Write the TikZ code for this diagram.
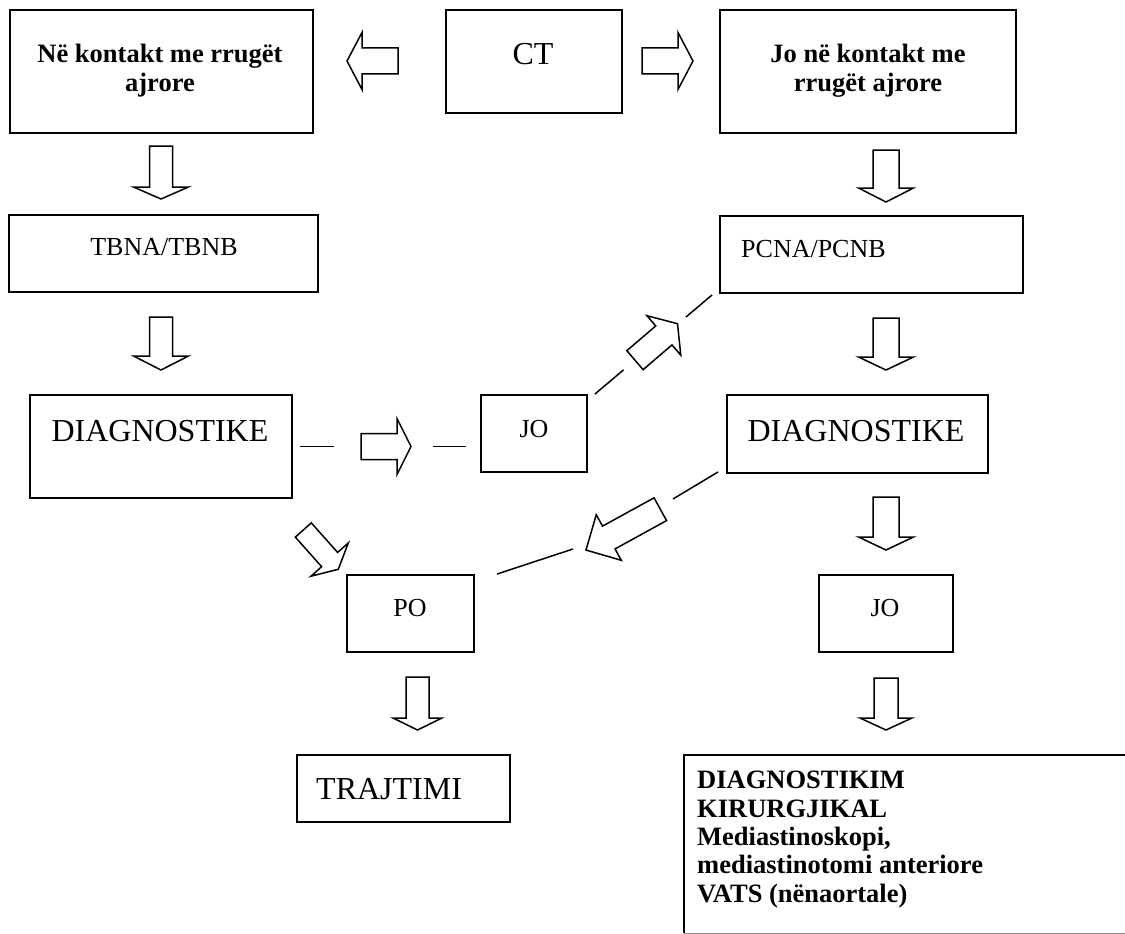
\documentclass[tikz,border=0pt]{standalone}
\usepackage{fontspec}
\setmainfont{Liberation Serif}
\usetikzlibrary{calc}
\begin{document}
\begin{tikzpicture}[x=1pt,y=-1pt,
  box/.style n args={2}{draw, line width=1.9pt, inner sep=0pt, minimum width=#1pt, minimum height=#2pt},
  small/.style={font=\fontsize{26}{30}\selectfont, inner sep=0pt},
  big/.style={font=\fontsize{32}{36}\selectfont, inner sep=0pt},
  bold/.style={font=\bfseries\fontsize{26.5}{30}\selectfont, inner sep=0pt},
  conn/.style={line width=1.5pt},
  pics/barrow/.style args={#1/#2/#3/#4}{code={
    \draw[line width=1.5pt, line join=miter, fill=white]
      (0,-#2) -- ({#1-#4},-#2) -- ({#1-#4},-#3) -- (#1,0) -- ({#1-#4},#3) -- ({#1-#4},#2) -- (0,#2) -- cycle;
  }}
]
\useasboundingbox (0,0) rectangle (1125,934);

% top row
\node[box={303}{123}] (b1) at (161.5,71.5) {};
\node[bold, anchor=base] (b1t1) at (160,63) {Në kontakt me rrugët};
\node[bold, anchor=base] (b1t2) at (160,92) {ajrore};

\node[box={176}{103}] (ct) at (534,61.5) {};
\node[big, anchor=base] (ctt) at (533,65) {CT};

\node[box={296}{123}] (j1) at (868,71.5) {};
\node[bold, anchor=base] (j1t1) at (868,63) {Jo në kontakt me};
\node[bold, anchor=base] (j1t2) at (868,92) {rrugët ajrore};

\pic[rotate=180] at (398,61) {barrow=51/13/28.5/15};
\pic at (642,61) {barrow=51/13/28.5/15};

\pic[rotate=-90] at (161,146) {barrow=53/11.5/27.5/12};
\pic[rotate=-90] at (886,150) {barrow=52/13/27.5/14};

% second row
\node[box={309}{77}] (tb) at (163.5,253.5) {};
\node[small, anchor=base] (tbt) at (164,255) {TBNA/TBNB};

\node[box={303}{77}] (pc) at (871.5,254.5) {};
\node[small, anchor=base west] (pct) at (741,257) {PCNA/PCNB};

\pic[rotate=-90] at (161,317) {barrow=53/11.5/27.5/14};
\pic[rotate=-90] at (886,318) {barrow=52/13/27.5/13};

% third row
\node[box={262}{103}] (dl) at (161,446.5) {};
\node[big, anchor=base] (dlt) at (160,441) {DIAGNOSTIKE};

\node[box={106}{77}] (jo2) at (534,433.5) {};
\node[small, anchor=base] (jo2t) at (534,437) {JO};

\node[box={261}{78}] (dr) at (857.5,434) {};
\node[big, anchor=base] (drt) at (856,441) {DIAGNOSTIKE};

\draw[conn, shorten <=7pt, shorten >=14pt, dash pattern=on 34pt off 99pt on 35pt]
  (dl.east) -- (dl.east -| jo2.west);
\pic at (361,446.5) {barrow=50/13/28/14};

\draw[conn, dash pattern=on 37.5pt off 81.7pt on 40pt]
  ($(jo2.north east)+(7,0)$) -- ($(pc.south west)+(-7,1)$);
\pic[rotate=40.6] at ($($(jo2.north east)+(7,0)$)!0.342!($(pc.south west)+(-7,1)$)$) {barrow=56/12.5/26/18};

\pic[rotate=-90] at (886,497) {barrow=53/13/27.5/13};

% fourth row
\node[box={127}{77}] (po) at (410.5,613.5) {};
\node[small, anchor=base] (pot) at (410,616) {PO};

\node[box={134}{77}] (jo3) at (886,613.5) {};
\node[small, anchor=base] (jo3t) at (885,616) {JO};

\pic[rotate=-48.3] at (303.3,530) {barrow=52.6/10.7/25/13};

\coordinate (k1) at (673,499);
\coordinate (k2) at (573,549);
\draw[conn] ($(dr.south west)+(-8,-2)$) -- (k1);
\draw[conn] (k2) -- ($(po.north east)+(22,0)$);
\pic[rotate=208.8] at (660.3,509.2) {barrow=84.8/13/26/26};

\pic[rotate=-90] at (417.5,677) {barrow=53/11.5/24.5/12};
\pic[rotate=-90] at (886,678) {barrow=52/12/26/12};

% bottom row
\node[box={213}{67}] (tr) at (403.5,788.5) {};
\node[big, anchor=base west] (trt) at (316,799) {TRAJTIMI};

\node[inner sep=0pt, minimum width=441pt, minimum height=178pt] (bb) at (904.5,844) {};
\draw[line width=2.4pt] (bb.north east) -- (bb.north west) -- (bb.south west);
\draw[line width=1pt, black!45] (bb.south west) -- (bb.south east);
\node[bold, anchor=base west] (bt1) at (697,788) {DIAGNOSTIKIM};
\node[bold, anchor=base west] (bt2) at (697,817) {KIRURGJIKAL};
\node[bold, anchor=base west] (bt3) at (697,845) {Mediastinoskopi,};
\node[bold, anchor=base west] (bt4) at (697,873) {mediastinotomi anteriore};
\node[bold, anchor=base west] (bt5) at (697,902) {VATS (nënaortale)};
\end{tikzpicture}
\end{document}
